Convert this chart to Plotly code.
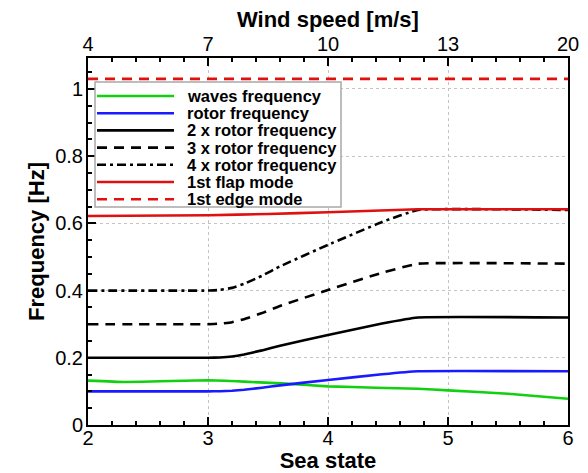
import plotly.graph_objects as go

# ---------------- data ----------------
sea_state_ticks = [2, 3, 4, 5, 6]
wind_speed_labels = ["4", "7", "10", "13", "20"]
freq_ticks = [0, 0.2, 0.4, 0.6, 0.8, 1.0]
freq_tick_labels = ["0", "0.2", "0.4", "0.6", "0.8", "1"]

ss_waves = [2, 2.3, 2.6, 3, 3.3, 3.65, 4, 4.4, 4.75, 5, 5.5, 6]
waves_freq = [0.132, 0.128, 0.130, 0.133, 0.129, 0.123, 0.115, 0.111, 0.108, 0.103, 0.093, 0.078]

ss_rotor = [2, 3, 3.1, 3.2, 3.3, 3.45, 3.6, 4, 4.45, 4.75, 6]
rotor_1x = [0.100, 0.100, 0.1005, 0.102, 0.105, 0.111, 0.118, 0.134, 0.151, 0.160, 0.160]
rotor_2x = [0.200, 0.200, 0.201, 0.204, 0.210, 0.222, 0.236, 0.268, 0.302, 0.320, 0.320]
rotor_3x = [0.300, 0.300, 0.3015, 0.306, 0.315, 0.333, 0.354, 0.402, 0.453, 0.480, 0.480]
rotor_4x = [0.400, 0.400, 0.402, 0.408, 0.420, 0.444, 0.472, 0.536, 0.604, 0.640, 0.640]

ss_flap = [2, 3, 3.5, 4, 4.5, 4.75, 6]
flap_mode = [0.622, 0.624, 0.628, 0.633, 0.639, 0.642, 0.642]

ss_edge = [2, 6]
edge_mode = [1.03, 1.03]

series_names = ["waves frequency", "rotor frequency", "2 x rotor frequency",
                "3 x rotor frequency", "4 x rotor frequency", "1st flap mode",
                "1st edge mode"]
series_x = [ss_waves, ss_rotor, ss_rotor, ss_rotor, ss_rotor, ss_flap, ss_edge]
series_y = [waves_freq, rotor_1x, rotor_2x, rotor_3x, rotor_4x, flap_mode, edge_mode]
series_colors = ["#10d010", "#1a1aff", "#000000", "#000000", "#000000", "#e01010", "#e01010"]
series_dash = ["solid", "solid", "solid", "10px,7px", "9px,4px,3px,4px", "solid", "10px,7px"]

FONT = "Liberation Sans, Arial, Helvetica, sans-serif"

fig = go.Figure()
for name, xs, ys, col, dsh in zip(series_names, series_x, series_y, series_colors, series_dash):
    fig.add_trace(go.Scatter(x=xs, y=ys, mode="lines", name=name, showlegend=False,
                             line=dict(color=col, width=2.6, dash=dsh, shape="spline",
                                       smoothing=0.3)))

# invisible trace so the top (wind speed) axis is drawn
fig.add_trace(go.Scatter(x=ss_edge, y=edge_mode, xaxis="x2", mode="lines",
                         line=dict(width=0), opacity=0, showlegend=False, hoverinfo="skip"))

# ---------------- custom legend (box, samples, labels) ----------------
L, R, T, B = 88, 20, 58, 48
W, H = 588, 473
pw, ph = W - L - R, H - T - B


def px_x(px):
    return (px - L) / pw


def px_y(py):
    return (H - B - py) / ph


shapes = [dict(type="rect", xref="paper", yref="paper", layer="above",
               x0=px_x(95), x1=px_x(341), y0=px_y(207), y1=px_y(82),
               line=dict(color="#a8a8a8", width=1.5), fillcolor="white")]
annotations = []
for i, (name, col, dsh) in enumerate(zip(series_names, series_colors, series_dash)):
    ry = 96 + i * 17.2
    shapes.append(dict(type="line", xref="paper", yref="paper", layer="above",
                       x0=px_x(97), x1=px_x(174), y0=px_y(ry), y1=px_y(ry),
                       line=dict(color=col, width=2.6, dash=dsh)))
    annotations.append(dict(text=name, xref="paper", yref="paper", x=px_x(185), y=px_y(ry),
                            xanchor="left", yanchor="middle", showarrow=False,
                            font=dict(family=FONT, size=16.5, color="black", weight="bold")))

tickfont = dict(family=FONT, size=20, color="black")
titlefont = dict(family=FONT, size=22, color="black", weight="bold")

# top axis title placed as text just above the wind-speed tick labels
annotations.append(dict(text="Wind speed [m/s]", xref="paper", yref="paper", x=0.5, y=px_y(33),
                        xanchor="center", yanchor="bottom", showarrow=False, font=titlefont,
                        borderpad=0))

fig.update_layout(
    width=W, height=H,
    margin=dict(l=L, r=R, t=T, b=B),
    paper_bgcolor="white", plot_bgcolor="white",
    shapes=shapes, annotations=annotations,
    showlegend=False,
    xaxis=dict(range=[2, 6], tickvals=sea_state_ticks, ticks="inside", ticklen=8,
               tickwidth=1.5, tickcolor="black", showline=True, linewidth=2, linecolor="black",
               showgrid=True, gridcolor="#c4c4c4", griddash="dot", gridwidth=1,
               zeroline=False, tickfont=tickfont, automargin=False, ticklabelstandoff=-6,
               minor=dict(dtick=0.2, ticks="inside", ticklen=4, tickcolor="black", showgrid=False),
               title=dict(text="Sea state", font=titlefont, standoff=0)),
    xaxis2=dict(range=[2, 6], overlaying="x", side="top", tickvals=sea_state_ticks,
                ticktext=wind_speed_labels, ticks="inside", ticklen=8, tickwidth=1.5,
                tickcolor="black", showline=True, linewidth=2, linecolor="black",
                showgrid=False, zeroline=False, tickfont=tickfont, automargin=False,
                ticklabelstandoff=-3,
                minor=dict(dtick=0.2, ticks="inside", ticklen=4, tickcolor="black", showgrid=False)),
    yaxis=dict(range=[0, 1.092], tickvals=freq_ticks, ticktext=freq_tick_labels,
               ticks="inside", ticklen=8, tickwidth=1.5, tickcolor="black",
               showline=True, linewidth=2, linecolor="black", mirror=True,
               showgrid=True, gridcolor="#c4c4c4", griddash="dot", gridwidth=1,
               zeroline=False, tickfont=tickfont, automargin=False, ticklabelstandoff=-1,
               minor=dict(dtick=0.05, ticks="inside", ticklen=4, tickcolor="black", showgrid=False),
               title=dict(text="Frequency [Hz]", font=titlefont, standoff=4)),
)

fig.write_html("out.html")
